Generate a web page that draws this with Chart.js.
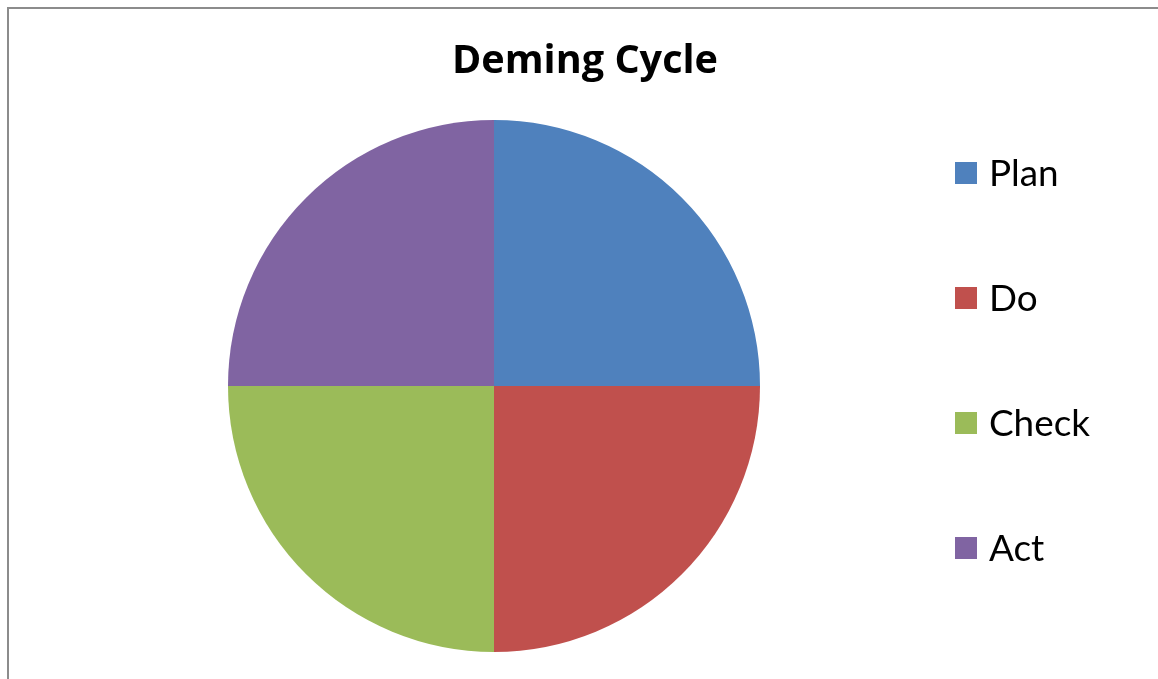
<!DOCTYPE html>
<html>
<head>
<meta charset="utf-8">
<script src="https://cdn.jsdelivr.net/npm/chart.js@4/dist/chart.umd.min.js"></script>
<style>
  html, body { margin: 0; padding: 0; background: #fff; }
  #wrap { position: relative; width: 1158px; height: 679px; overflow: hidden; }
  #frame { position: absolute; left: 7px; top: 7px; width: 1200px; height: 720px;
           border-left: 2px solid #8c8c8c; border-top: 2px solid #8c8c8c; }
  canvas { position: absolute; left: 0; top: 0; }
</style>
</head>
<body>
<div id="wrap">
  <div id="frame"></div>
  <canvas id="chart" width="1158" height="679"></canvas>
</div>
<script>
// ── Data ──────────────────────────────────────────────
const chartTitle = 'Deming Cycle';
const phases     = ['Plan', 'Do', 'Check', 'Act'];
const shares     = [25, 25, 25, 25];
const colors     = ['#4f81bd', '#c0504d', '#9bbb59', '#8064a2'];

const TITLE_FONT  = '"Open Sans", Lato, sans-serif';
const LEGEND_FONT = 'Lato, "Open Sans", sans-serif';

// pick a font size so the text spans the given width
function fitSize(ctx, text, weight, family, width) {
  ctx.font = `${weight} 100px ${family}`;
  return 100 * width / ctx.measureText(text).width;
}

// Title + legend drawn on the canvas, Office style
const decorPlugin = {
  id: 'decor',
  afterDraw(chart) {
    const ctx = chart.ctx;
    ctx.save();
    ctx.fillStyle = '#000';
    ctx.textBaseline = 'middle';
    ctx.textAlign = 'center';
    const ts = fitSize(ctx, chartTitle, 'bold', TITLE_FONT, 266);
    ctx.font = `bold ${ts}px ${TITLE_FONT}`;
    ctx.fillText(chartTitle, 585, 62);

    ctx.textAlign = 'left';
    const ls = fitSize(ctx, 'Check', 'normal', LEGEND_FONT, 101);
    ctx.font = `${ls}px ${LEGEND_FONT}`;
    const labels = chart.data.labels;
    const bg = chart.data.datasets[0].backgroundColor;
    labels.forEach((lbl, i) => {
      const y = 173 + i * 125;
      ctx.fillStyle = bg[i];
      ctx.fillRect(955, y - 11, 22, 22);
      ctx.fillStyle = '#000';
      ctx.fillText(lbl, 989, y + 1);
    });
    ctx.restore();
  }
};

new Chart(document.getElementById('chart'), {
  type: 'pie',
  data: {
    labels: phases,
    datasets: [{ data: shares, backgroundColor: colors, borderWidth: 0 }],
  },
  options: {
    responsive: false,
    animation: false,
    layout: { padding: { left: 228, right: 398, top: 120, bottom: 27 } },
    plugins: {
      legend: { display: false },
      title: { display: false },
      tooltip: { enabled: false },
    },
  },
  plugins: [decorPlugin],
});
</script>
</body>
</html>
